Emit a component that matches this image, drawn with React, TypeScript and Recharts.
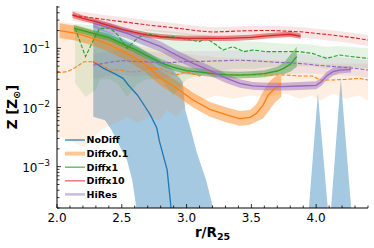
import React from 'react';
import { ComposedChart, Line, Area, XAxis, YAxis, Legend } from 'recharts';

const COLORS = { NoDiff: '#1f77b4', Diffx01: '#ff7f0e', Diffx1: '#2ca02c', Diffx10: '#d62728', HiRes: '#9467bd' };
const FONT = 'DejaVu Sans, Verdana, sans-serif';

// ---- axis ticks ----
const xTicks = [2.0, 2.1, 2.2, 2.3, 2.4, 2.5, 2.6, 2.7, 2.8, 2.9, 3.0, 3.1, 3.2, 3.3, 3.4, 3.5, 3.6, 3.7, 3.8, 3.9, 4.0, 4.1, 4.2, 4.3, 4.4];
const xMajor = [2.0, 2.5, 3.0, 3.5, 4.0];
const xMajorLabels = ['2.0', '2.5', '3.0', '3.5', '4.0'];
const yTicks = [0.0002, 0.0003, 0.0004, 0.0005, 0.0006, 0.0007, 0.0008, 0.0009, 0.001, 0.002, 0.003, 0.004, 0.005, 0.006, 0.007, 0.008, 0.009, 0.01, 0.02, 0.03, 0.04, 0.05, 0.06, 0.07, 0.08, 0.09, 0.1, 0.2, 0.3, 0.4, 0.5];
const yMajor = [0.001, 0.01, 0.1];
const yMajorExp = ['\u22123', '\u22122', '\u22121'];

// ---- NoDiff ----
const noDiffR = [2.28, 2.36, 2.44, 2.51, 2.55, 2.62, 2.68, 2.72, 2.77, 2.79, 2.85, 2.88, 2.91];
const noDiffMed = [0.0595, 0.0459, 0.0378, 0.0311, 0.024, 0.0163, 0.0103, 0.0075, 0.0045, 0.0027, 0.00088, 0.0002, 0.00007];
const noDiffBandR = [2.28, 2.37, 2.42, 2.5, 2.54, 2.58, 2.6, 2.62, 2.7, 2.8, 2.9, 2.97, 2.99, 3.04, 3.08, 3.15, 3.2, 3.23];
const noDiffHi = [0.26, 0.2, 0.18, 0.15, 0.135, 0.123, 0.115, 0.11, 0.085, 0.062, 0.042, 0.027, 0.009, 0.0037, 0.0017, 0.0006, 0.00022, 0.00012];
const noDiffLo = [0.007, 0.0061, 0.0042, 0.0019, 0.0013, 0.0006, 0.00031, 0.00015, 0.00001, 0.00001, 0.00001, 0.00001, 0.00001, 0.00001, 0.00001, 0.00001, 0.00001, 0.00001];
const noDiffSpikeR = [3.944, 4.013, 4.09, 4.1, 4.115, 4.19, 4.27];
const noDiffSpikeHi = [0.0002, 0.0173, 0.0002, null, 0.0002, 0.03, 0.0002];
const noDiffSpikeLo = [0.0002, 0.0002, 0.0002, null, 0.0002, 0.0002, 0.0002];

// ---- Diffx0.1 ----
const d01R = [2.02, 2.15, 2.28, 2.41, 2.54, 2.67, 2.79, 2.92, 3.05, 3.18, 3.31, 3.41, 3.49, 3.54, 3.59, 3.63, 3.68, 3.73];
const d01Med = [0.2, 0.179, 0.148, 0.114, 0.0823, 0.0558, 0.0324, 0.0214, 0.0134, 0.0093, 0.0075, 0.0065, 0.0068, 0.008, 0.011, 0.0163, 0.0211, 0.0249];
const d01Hi = [0.265, 0.238, 0.197, 0.152, 0.11, 0.074, 0.043, 0.0285, 0.0178, 0.0124, 0.01, 0.0087, 0.0091, 0.0115, 0.0185, 0.026, 0.033, 0.0355];
const d01Lo = [0.15, 0.135, 0.111, 0.086, 0.062, 0.042, 0.0243, 0.0161, 0.01, 0.007, 0.0056, 0.0049, 0.0051, 0.0058, 0.0065, 0.0085, 0.012, 0.015];
const d01DashR = [2.0, 2.08, 2.13, 2.21, 2.28, 2.33, 2.41, 2.49, 2.54, 2.62, 2.72, 2.79, 2.85, 2.92, 3.0, 3.1, 3.15, 3.23, 3.36, 3.49, 3.62, 3.77, 3.87, 3.97, 4.03, 4.13, 4.23, 4.33, 4.4];
const d01Mean = [0.0388, 0.0403, 0.0459, 0.0595, 0.0595, 0.0543, 0.043, 0.043, 0.0403, 0.0403, 0.0459, 0.0459, 0.0403, 0.0354, 0.0403, 0.0341, 0.0403, 0.0354, 0.0354, 0.0354, 0.0354, 0.0354, 0.0341, 0.0341, 0.0292, 0.0292, 0.0299, 0.0311, 0.0292];
const d01WideHi = [0.28, 0.27, 0.26, 0.22, 0.19, 0.17, 0.15, 0.13, 0.12, 0.11, 0.1, 0.095, 0.09, 0.085, 0.08, 0.075, 0.075, 0.07, 0.068, 0.066, 0.064, 0.062, 0.06, 0.058, 0.055, 0.055, 0.055, 0.055, 0.055];
const d01WideLo = [0.0032, 0.003, 0.0025, 0.0022, 0.003, 0.004, 0.005, 0.006, 0.007, 0.0055, 0.007, 0.006, 0.009, 0.007, 0.011, 0.013, 0.014, 0.016, 0.014, 0.016, 0.015, 0.017, 0.014, 0.016, 0.013, 0.017, 0.014, 0.016, 0.013];

// ---- Diffx1 ----
const d1R = [2.13, 2.2, 2.3, 2.4, 2.5, 2.6, 2.7, 2.8, 2.9, 3.0, 3.1, 3.2, 3.3, 3.4, 3.5, 3.6, 3.7, 3.75, 3.8, 3.85];
const d1Med = [0.218, 0.199, 0.1745, 0.153, 0.1215, 0.0962, 0.0741, 0.0573, 0.0478, 0.042, 0.0398, 0.0373, 0.0359, 0.0354, 0.0359, 0.0373, 0.0414, 0.0459, 0.0537, 0.0723];
const d1Hi = [0.248, 0.227, 0.199, 0.174, 0.138, 0.11, 0.085, 0.066, 0.055, 0.048, 0.0455, 0.0425, 0.041, 0.0404, 0.041, 0.0428, 0.049, 0.057, 0.0771, 0.1066];
const d1Lo = [0.191, 0.175, 0.153, 0.134, 0.1065, 0.0844, 0.065, 0.0503, 0.042, 0.0368, 0.0349, 0.0327, 0.0315, 0.031, 0.0315, 0.0326, 0.0354, 0.0365, 0.0403, 0.049];
const d1DashR = [2.14, 2.22, 2.3, 2.33, 2.41, 2.47, 2.54, 2.62, 2.69, 2.8, 2.9, 3.0, 3.1, 3.15, 3.23, 3.28, 3.36, 3.44, 3.51, 3.62, 3.77, 3.87, 3.97, 4.08, 4.18, 4.28, 4.4];
const d1Mean = [0.218, 0.0723, 0.168, 0.218, 0.218, 0.168, 0.1, 0.148, 0.179, 0.157, 0.157, 0.142, 0.13, 0.148, 0.114, 0.0937, 0.1066, 0.0879, 0.0937, 0.0879, 0.0879, 0.0879, 0.0823, 0.0678, 0.0771, 0.0723, 0.0678];
const d1WideHi = [0.26, 0.25, 0.25, 0.26, 0.26, 0.23, 0.2, 0.2, 0.21, 0.2, 0.19, 0.18, 0.17, 0.17, 0.15, 0.14, 0.14, 0.13, 0.13, 0.125, 0.12, 0.12, 0.115, 0.105, 0.11, 0.105, 0.1];
const d1WideLo = [0.026, 0.015, 0.02, 0.03, 0.03, 0.025, 0.015, 0.025, 0.03, 0.03, 0.016, 0.03, 0.035, 0.04, 0.04, 0.042, 0.045, 0.045, 0.045, 0.048, 0.05, 0.05, 0.05, 0.045, 0.05, 0.048, 0.046];

// ---- Diffx10 ----
const d10R = [2.12, 2.2, 2.3, 2.4, 2.5, 2.6, 2.7, 2.8, 2.9, 3.0, 3.1, 3.2, 3.3, 3.4, 3.5, 3.6, 3.7, 3.8, 3.85, 3.88];
const d10Med = [0.366, 0.321, 0.283, 0.2415, 0.209, 0.186, 0.168, 0.157, 0.151, 0.148, 0.148, 0.148, 0.148, 0.15, 0.153, 0.161, 0.168, 0.173, 0.165, 0.161];
const d10Hi = [0.42, 0.36, 0.315, 0.27, 0.232, 0.206, 0.186, 0.174, 0.168, 0.164, 0.164, 0.164, 0.164, 0.166, 0.17, 0.178, 0.186, 0.192, 0.183, 0.178];
const d10Lo = [0.325, 0.29, 0.255, 0.218, 0.189, 0.168, 0.151, 0.142, 0.136, 0.133, 0.133, 0.133, 0.133, 0.135, 0.138, 0.145, 0.151, 0.156, 0.149, 0.145];
const d10DashR = [2.12, 2.2, 2.3, 2.4, 2.5, 2.6, 2.7, 2.8, 2.9, 3.0, 3.1, 3.2, 3.3, 3.4, 3.5, 3.6, 3.7, 3.8, 3.9, 4.0, 4.1, 4.2, 4.3, 4.4];
const d10Mean = [0.366, 0.343, 0.321, 0.301, 0.283, 0.265, 0.248, 0.2355, 0.223, 0.209, 0.1965, 0.189, 0.192, 0.1965, 0.199, 0.201, 0.199, 0.194, 0.189, 0.179, 0.17, 0.16, 0.15, 0.138];
const d10WideHi = [0.44, 0.41, 0.385, 0.36, 0.34, 0.32, 0.3, 0.283, 0.268, 0.25, 0.236, 0.227, 0.23, 0.236, 0.239, 0.241, 0.239, 0.233, 0.227, 0.215, 0.204, 0.192, 0.18, 0.166];
const d10WideLo = [0.293, 0.274, 0.257, 0.241, 0.226, 0.212, 0.198, 0.188, 0.178, 0.167, 0.157, 0.151, 0.154, 0.157, 0.159, 0.161, 0.159, 0.155, 0.151, 0.143, 0.136, 0.128, 0.12, 0.11];

// ---- HiRes ----
const hrR = [2.28, 2.41, 2.54, 2.67, 2.8, 2.92, 3.05, 3.18, 3.31, 3.41, 3.51, 3.62, 3.74, 3.87, 4.0, 4.04, 4.08, 4.13, 4.18, 4.27];
const hrMed = [0.265, 0.218, 0.179, 0.138, 0.1066, 0.0771, 0.0558, 0.042, 0.0311, 0.0256, 0.0233, 0.0225, 0.0225, 0.0231, 0.0237, 0.0273, 0.0341, 0.0403, 0.043, 0.0442];
const hrHi = [0.31, 0.26, 0.215, 0.168, 0.13, 0.094, 0.068, 0.051, 0.037, 0.03, 0.027, 0.0262, 0.0262, 0.027, 0.0277, 0.032, 0.04, 0.047, 0.05, 0.05];
const hrLo = [0.225, 0.18, 0.148, 0.113, 0.088, 0.063, 0.046, 0.0345, 0.0256, 0.0215, 0.02, 0.0193, 0.0193, 0.0198, 0.0203, 0.0234, 0.029, 0.0345, 0.0375, 0.039];
const hrDashR = [2.28, 2.4, 2.5, 2.6, 2.7, 2.8, 2.9, 3.0, 3.1, 3.2, 3.3, 3.4, 3.5, 3.6, 3.7, 3.8, 3.9, 4.0, 4.1, 4.2, 4.3, 4.4];
const hrMean = [0.052, 0.058, 0.062, 0.06, 0.059, 0.057, 0.058, 0.06, 0.06, 0.061, 0.062, 0.063, 0.062, 0.06, 0.058, 0.057, 0.055, 0.052, 0.05, 0.048, 0.046, 0.043];
const hrWideHi = [0.08, 0.09, 0.095, 0.09, 0.088, 0.085, 0.087, 0.09, 0.09, 0.09, 0.092, 0.093, 0.09, 0.088, 0.085, 0.083, 0.08, 0.075, 0.072, 0.07, 0.067, 0.063];
const hrWideLo = [0.03, 0.035, 0.036, 0.033, 0.035, 0.03, 0.034, 0.036, 0.035, 0.037, 0.038, 0.038, 0.037, 0.036, 0.036, 0.037, 0.038, 0.037, 0.036, 0.035, 0.034, 0.032];

const legendNames = ['NoDiff', 'Diffx0.1', 'Diffx1', 'Diffx10', 'HiRes'];

type V = number | null;
const zipLine = (r: number[], v: V[]) => r.map((x, i) => ({ r: x, v: v[i] }));
const zipBand = (r: number[], lo: V[], hi: V[]) =>
  r.map((x, i) => ({ r: x, band: lo[i] == null || hi[i] == null ? null : [lo[i], hi[i]] }));

const band = (key: string, data: any[], color: string, op: number) => (
  <Area key={key} data={data} dataKey="band" type="linear" stroke="none" fill={color} fillOpacity={op}
    isAnimationActive={false} dot={false} activeDot={false} connectNulls={false} legendType="none" />
);
const line = (key: string, data: any[], color: string, dashed: boolean) => (
  <Line key={key} data={data} dataKey="v" type="linear" stroke={color} strokeWidth={dashed ? 1.1 : 1.3}
    strokeDasharray={dashed ? '4 1.7' : undefined} dot={false} activeDot={false}
    isAnimationActive={false} legendType="none" />
);

const isMajorX = (v: number) => xMajor.some((m) => Math.abs(m - v) < 1e-6);
const majorYIndex = (v: number) => yMajor.findIndex((m) => Math.abs(m - v) / m < 1e-6);

const BottomTick = (p: any) => {
  const v = p.payload.value;
  const major = isMajorX(v);
  const idx = xMajor.findIndex((m) => Math.abs(m - v) < 1e-6);
  return (
    <g>
      <line x1={p.x} x2={p.x} y1={p.y} y2={p.y - (major ? 4 : 2.5)} stroke="#000" strokeWidth={0.8} />
      {major && (
        <text x={p.x} y={p.y + 14} textAnchor="middle" fontSize={12} fontFamily={FONT} fill="#000">
          {xMajorLabels[idx]}
        </text>
      )}
    </g>
  );
};
const TopTick = (p: any) => {
  const major = isMajorX(p.payload.value);
  return <line x1={p.x} x2={p.x} y1={p.y} y2={p.y + (major ? 4 : 2.5)} stroke="#000" strokeWidth={0.8} />;
};
const LeftTick = (p: any) => {
  const idx = majorYIndex(p.payload.value);
  const major = idx >= 0;
  return (
    <g>
      <line x1={p.x} x2={p.x + (major ? 4 : 2.5)} y1={p.y} y2={p.y} stroke="#000" strokeWidth={0.8} />
      {major && (
        <text x={p.x - 7} y={p.y + 5} textAnchor="end" fontSize={12} fontFamily={FONT} fill="#000">
          10<tspan dy={-5.5} fontSize={8.5}>{yMajorExp[idx]}</tspan>
        </text>
      )}
    </g>
  );
};
const RightTick = (p: any) => {
  const major = majorYIndex(p.payload.value) >= 0;
  return <line x1={p.x} x2={p.x - (major ? 4 : 2.5)} y1={p.y} y2={p.y} stroke="#000" strokeWidth={0.8} />;
};

const XLabel = (p: any) => {
  const vb = p.viewBox || { x: 57, y: 208, width: 311 };
  return (
    <text x={vb.x + vb.width / 2} y={vb.y + 28.5} textAnchor="middle" fontSize={13.5} fontWeight="bold" fontFamily={FONT} fill="#000">
      r/R<tspan dy={3.5} fontSize={9.5}>25</tspan>
    </text>
  );
};
const YLabel = (p: any) => {
  const vb = p.viewBox || { x: 0, y: 6, height: 202 };
  const cy = vb.y + vb.height / 2;
  return (
    <text transform={`translate(16.5, ${cy}) rotate(-90)`} textAnchor="middle" fontSize={13.5} fontWeight="bold" fontFamily={FONT} fill="#000">
      Z [Z<tspan dy={3} fontSize={9.5}>{'\u2299'}</tspan><tspan dy={-3}>]</tspan>
    </text>
  );
};

const legendStyles = [
  { color: COLORS.NoDiff, width: 1.2, opacity: 1 },
  { color: COLORS.Diffx01, width: 4, opacity: 0.45 },
  { color: COLORS.Diffx1, width: 1.4, opacity: 0.75 },
  { color: COLORS.Diffx10, width: 1.4, opacity: 0.65 },
  { color: COLORS.HiRes, width: 2.5, opacity: 0.45 },
];
const LegendContent = () => (
  <svg width={374} height={248} style={{ position: 'absolute', left: 0, top: 0, pointerEvents: 'none' }}>
    {legendNames.map((n, i) => {
      const y = 140 + i * 13.6;
      const s = legendStyles[i];
      return (
        <g key={n}>
          <line x1={65} x2={85} y1={y} y2={y} stroke={s.color} strokeWidth={s.width} strokeOpacity={s.opacity} />
          <text x={86.5} y={y + 3.4} fontSize={9.5} fontWeight="bold" fontFamily={FONT} fill="#000">{n}</text>
        </g>
      );
    })}
  </svg>
);

export default function App() {
  return (
    <div style={{ position: 'absolute', left: 0, top: 0, width: 374, height: 248, background: '#fff' }}>
      <ComposedChart width={374} height={248} margin={{ top: 6, right: 6, bottom: 0, left: 0 }}>
        <XAxis xAxisId={0} dataKey="r" type="number" domain={[2.0, 4.4]} allowDataOverflow ticks={xTicks} interval={0}
          height={40} tickSize={0} tickMargin={0} tick={<BottomTick />} tickLine={false}
          axisLine={{ stroke: '#000', strokeWidth: 1 }} label={<XLabel />} />
        <XAxis xAxisId="top" orientation="top" dataKey="r" type="number" domain={[2.0, 4.4]} allowDataOverflow ticks={xTicks}
          interval={0} height={0} tickSize={0} tickMargin={0} tick={<TopTick />} tickLine={false}
          axisLine={{ stroke: '#000', strokeWidth: 1 }} />
        <YAxis yAxisId={0} scale="log" type="number" domain={[0.0002, 0.52]} allowDataOverflow ticks={yTicks} interval={0}
          width={57} tickSize={0} tickMargin={0} tick={<LeftTick />} tickLine={false}
          axisLine={{ stroke: '#000', strokeWidth: 1 }} label={<YLabel />} />
        <YAxis yAxisId="right" orientation="right" scale="log" type="number" domain={[0.0002, 0.52]} allowDataOverflow
          ticks={yTicks} interval={0} width={0} tickSize={0} tickMargin={0} tick={<RightTick />} tickLine={false}
          axisLine={{ stroke: '#000', strokeWidth: 1 }} />

        {band('nd-band', zipBand(noDiffBandR, noDiffLo, noDiffHi), COLORS.NoDiff, 0.4)}
        {band('nd-spike', zipBand(noDiffSpikeR, noDiffSpikeLo, noDiffSpikeHi), COLORS.NoDiff, 0.4)}
        {line('nd-med', zipLine(noDiffR, noDiffMed), COLORS.NoDiff, false)}

        {band('d01-wide', zipBand(d01DashR, d01WideLo, d01WideHi), COLORS.Diffx01, 0.12)}
        {line('d01-mean', zipLine(d01DashR, d01Mean), COLORS.Diffx01, true)}
        {band('d01-band', zipBand(d01R, d01Lo, d01Hi), COLORS.Diffx01, 0.45)}
        {line('d01-med', zipLine(d01R, d01Med), COLORS.Diffx01, false)}

        {band('d1-wide', zipBand(d1DashR, d1WideLo, d1WideHi), COLORS.Diffx1, 0.12)}
        {line('d1-mean', zipLine(d1DashR, d1Mean), COLORS.Diffx1, true)}
        {band('d1-band', zipBand(d1R, d1Lo, d1Hi), COLORS.Diffx1, 0.45)}
        {line('d1-med', zipLine(d1R, d1Med), COLORS.Diffx1, false)}

        {band('d10-wide', zipBand(d10DashR, d10WideLo, d10WideHi), COLORS.Diffx10, 0.12)}
        {line('d10-mean', zipLine(d10DashR, d10Mean), COLORS.Diffx10, true)}
        {band('d10-band', zipBand(d10R, d10Lo, d10Hi), COLORS.Diffx10, 0.5)}
        {line('d10-med', zipLine(d10R, d10Med), COLORS.Diffx10, false)}

        {band('hr-wide', zipBand(hrDashR, hrWideLo, hrWideHi), COLORS.HiRes, 0.12)}
        {line('hr-mean', zipLine(hrDashR, hrMean), COLORS.HiRes, true)}
        {band('hr-band', zipBand(hrR, hrLo, hrHi), COLORS.HiRes, 0.45)}
        {line('hr-med', zipLine(hrR, hrMed), COLORS.HiRes, false)}

        <Legend layout="horizontal" verticalAlign="middle" align="center" content={<LegendContent />}
          wrapperStyle={{ left: 0, top: 0, right: 'auto', bottom: 'auto', width: 374, height: 248, pointerEvents: 'none' }} />
      </ComposedChart>
    </div>
  );
}
